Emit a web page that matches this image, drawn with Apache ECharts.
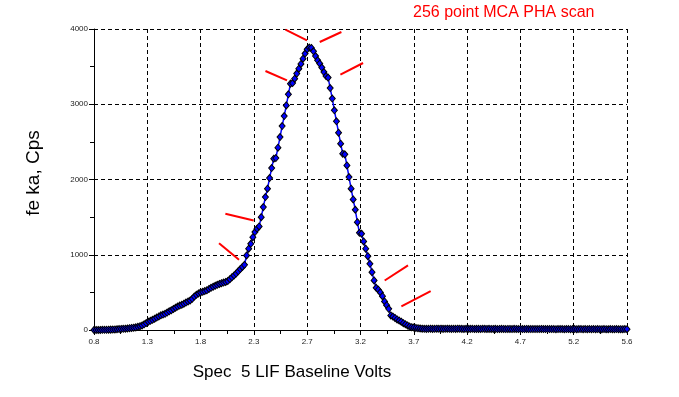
<!DOCTYPE html>
<html>
<head>
<meta charset="utf-8">
<script src="https://cdn.jsdelivr.net/npm/echarts@6/dist/echarts.min.js"></script>
<style>
  html, body { margin: 0; padding: 0; background: #fff; }
  #chart { width: 679px; height: 397px; }
</style>
</head>
<body>
<div id="chart"></div>
<script>
// 256 channel MCA scan, 0.8 V .. 5.6 V
const xTickLabels = ['0.8', '1.3', '1.8', '2.3', '2.7', '3.2', '3.7', '4.2', '4.7', '5.2', '5.6'];
const yTickLabels = [0, 1000, 2000, 3000, 4000];
const voltsMin = 0.8;
const voltsMax = 5.6;

// counts per channel (cps)
const cps = [
  0, 0, 0, 0, 2, 3, 3, 4, 5, 6,
  8, 10, 12, 14, 16, 18, 20, 24, 27, 30,
  35, 42, 50, 60, 75, 92, 110, 122, 135, 150,
  165, 180, 195, 205, 215, 232, 248, 262, 280, 296,
  312, 325, 335, 350, 365, 380, 392, 415, 445, 468,
  485, 500, 508, 518, 528, 545, 560, 575, 588, 600,
  612, 622, 630, 638, 650, 675, 700, 725, 750, 780,
  810, 838,
  867, 991, 1080, 1146, 1234, 1301, 1346, 1376,
  1500, 1633, 1766, 1878, 2019, 2152, 2277, 2285, 2423, 2564,
  2710, 2843, 2985, 3132, 3274, 3282, 3340, 3407, 3473, 3535,
  3606, 3673, 3730, 3753, 3748, 3704, 3641, 3584, 3540, 3487,
  3428, 3375, 3354, 3215, 3075, 2919, 2773, 2622, 2476, 2343,
  2334, 2187, 2032, 1878, 1735, 1598, 1433, 1292, 1279, 1177,
  1080, 981, 880, 769, 658, 561, 535, 500, 450, 380,
  330, 282, 193, 178, 160, 140, 125, 110, 90, 75,
  60, 45, 37, 32, 28, 24, 20, 17,
  16, 15, 16, 17, 15, 16, 18, 16, 17, 15, 16, 17, 16,
  15, 16, 15, 17, 16, 15, 14, 16, 15, 15, 16, 14, 15, 15, 14, 16, 15, 14, 15, 14,
  14, 15, 13, 14, 15, 14, 13, 14, 14, 13, 15, 14, 13, 14, 13, 12, 14, 13, 13, 12,
  13, 12, 13, 14, 12, 13, 12, 12, 13, 12, 11, 13, 12, 12, 11, 12, 13, 11, 12, 12,
  11, 12, 12, 11, 13, 11, 12, 11, 12, 11, 12, 11, 11, 12, 11, 10, 12, 11, 11, 12, 10, 11, 11, 12, 11
];

// red marker strokes: [volts1, cps1, volts2, cps2]
const redMarks = [
  [2.524, 3992, 2.718, 3850],
  [2.833, 3827, 3.028, 3960],
  [2.344, 3442, 2.538, 3318],
  [3.019, 3394, 3.223, 3548],
  [1.983, 1545, 2.238, 1456],
  [1.926, 1154, 2.106, 934],
  [3.418, 658, 3.628, 858],
  [3.568, 313, 3.832, 516]
];

const lastCh = cps.length - 1;
const toChannel = (v) => (v - voltsMin) / (voltsMax - voltsMin) * lastCh;
const font = 'Arial, "Liberation Sans", sans-serif';

const myChart = echarts.init(document.getElementById('chart'));
const option = {
  animation: false,
  backgroundColor: '#fff',
  grid: { left: 94, right: 52, top: 29, bottom: 67 },
  xAxis: {
    type: 'value',
    min: 0,
    max: lastCh,
    interval: lastCh / 10,
    axisLine: { lineStyle: { color: '#000', width: 1 } },
    axisTick: { length: 5, lineStyle: { color: '#000' } },
    minorTick: { show: true, splitNumber: 2, length: 4, lineStyle: { color: '#000' } },
    axisLabel: {
      margin: 8, fontSize: 8, color: '#222', fontFamily: font,
      formatter: (val) => xTickLabels[Math.round(val / (lastCh / 10))]
    },
    splitLine: { show: true, lineStyle: { color: '#000', type: [4, 3], width: 1 } }
  },
  yAxis: {
    type: 'value',
    min: yTickLabels[0],
    max: yTickLabels[yTickLabels.length - 1],
    interval: 1000,
    axisLine: { show: true, lineStyle: { color: '#000', width: 1 } },
    axisTick: { show: true, length: 5, lineStyle: { color: '#000' } },
    minorTick: { show: true, splitNumber: 2, length: 4, lineStyle: { color: '#000' } },
    axisLabel: {
      margin: 6, fontSize: 8, color: '#222', fontFamily: font,
      formatter: (val) => String(val)
    },
    splitLine: { show: true, lineStyle: { color: '#000', type: [4, 3], width: 1 } }
  },
  graphic: [
    {
      type: 'text', left: 413, top: 5,
      style: { text: '256 point MCA PHA scan', font: '16px ' + font, fill: '#ff0000' }
    },
    {
      type: 'text', x: 292, y: 372,
      style: { text: 'Spec  5 LIF Baseline Volts', font: '17px ' + font, fill: '#000', align: 'center', verticalAlign: 'middle' }
    },
    {
      type: 'text', x: 34, y: 173, rotation: Math.PI / 2,
      style: { text: 'fe ka, Cps', font: '19px ' + font, fill: '#000', align: 'center', verticalAlign: 'middle' }
    }
  ],
  series: [{
    type: 'line',
    data: cps.map((c, i) => [i, c]),
    symbol: 'diamond',
    symbolSize: [6, 7],
    showAllSymbol: true,
    lineStyle: { color: '#0000ff', width: 1.5 },
    itemStyle: { color: '#0000ff', borderColor: '#000', borderWidth: 1 },
    markLine: {
      silent: true,
      symbol: ['none', 'none'],
      label: { show: false },
      lineStyle: { color: '#ff0000', width: 2, type: 'solid' },
      data: redMarks.map(m => [
        { coord: [toChannel(m[0]), m[1]] },
        { coord: [toChannel(m[2]), m[3]] }
      ])
    }
  }]
};
myChart.setOption(option);
</script>
</body>
</html>
